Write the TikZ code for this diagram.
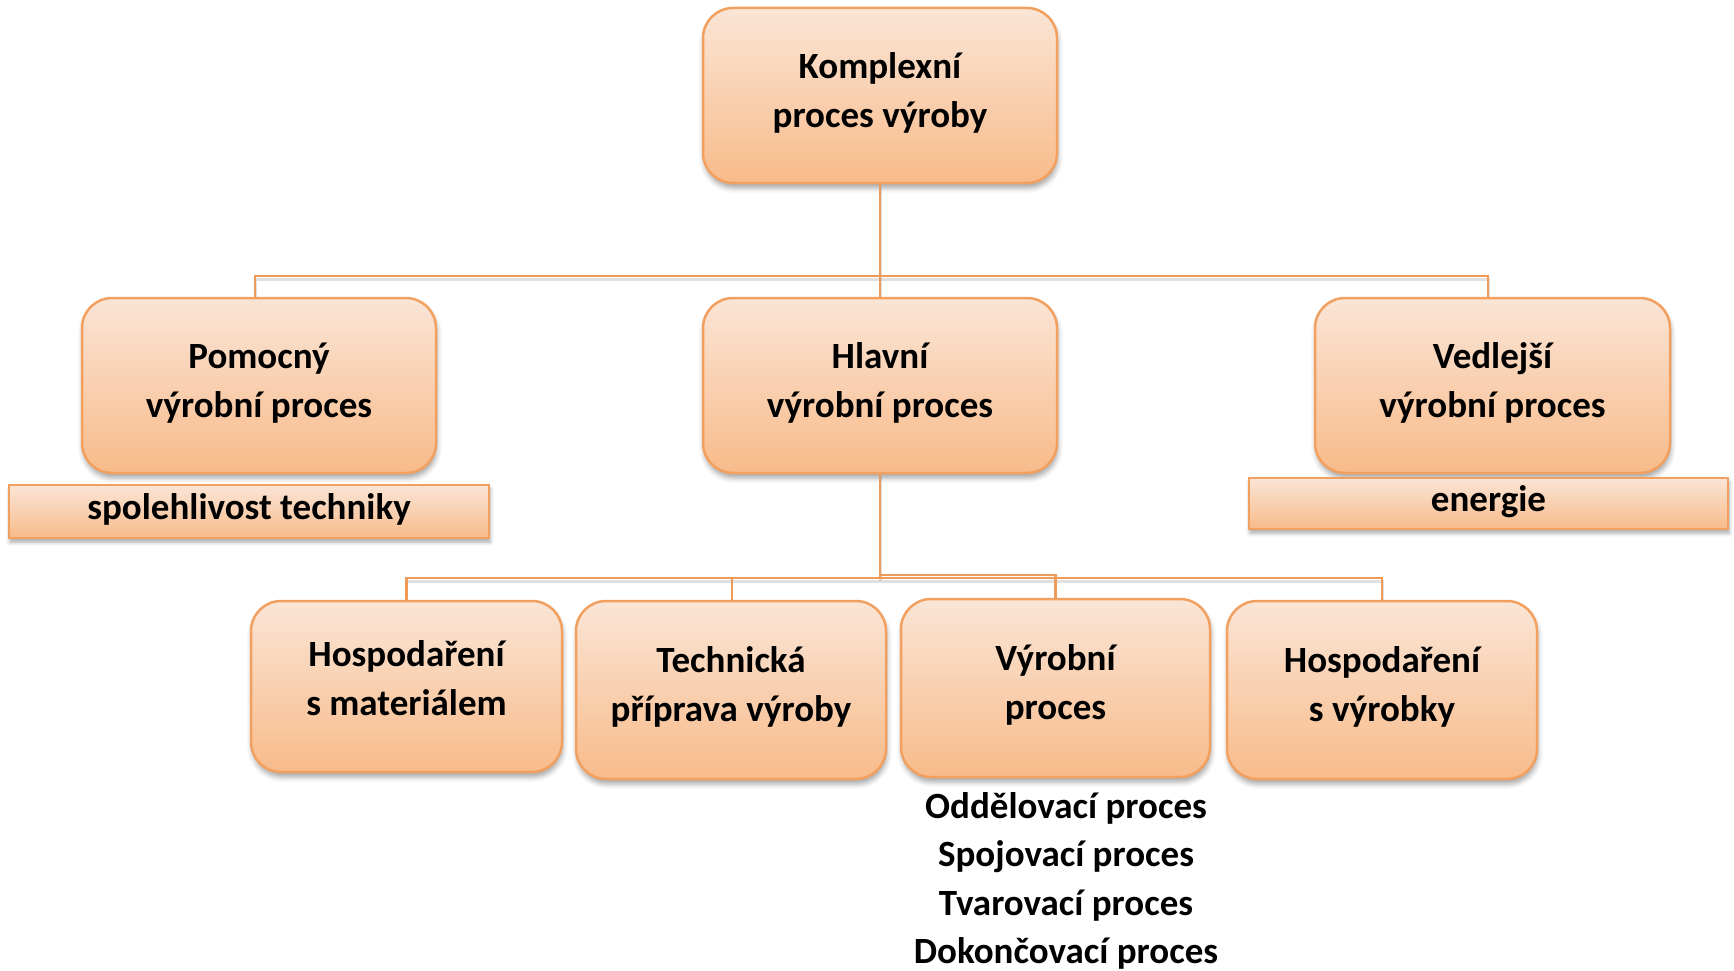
\documentclass[tikz,border=0pt]{standalone}
\usepackage{fontspec}
\setmainfont{Carlito}
\usetikzlibrary{shadows,shadows.blur,calc}
\definecolor{brd}{HTML}{F2A060}
\definecolor{lnc}{HTML}{F09A58}
\definecolor{topc}{HTML}{FAE5D6}
\definecolor{botc}{HTML}{F8BB8A}
\newcommand\boxtxt[2][3pt]{\raisebox{#1}[\height][\depth]{\begin{tabular}{@{}c@{}}#2\end{tabular}}}
\tikzset{
  txt/.style={font=\fontsize{37}{49}\selectfont\bfseries, text=black},
  rbox/.style={txt, draw=brd, line width=2.5pt, rounded corners=30pt, top color=topc, bottom color=botc,
    inner sep=0pt,
    blur shadow={shadow xshift=1pt, shadow yshift=-5pt, shadow blur radius=5pt, shadow opacity=35}},
  sbox/.style={txt, draw=brd, line width=2.5pt, top color=topc, bottom color=botc,
    inner sep=0pt,
    blur shadow={shadow xshift=1pt, shadow yshift=-4pt, shadow blur radius=4pt, shadow opacity=35}},
  conn/.style={draw=lnc, line width=2.5pt},
  connsh/.style={draw=black, opacity=0.12, line width=3pt},
  list/.style={txt, anchor=base, inner sep=0pt},
}
\begin{document}
\begin{tikzpicture}[x=1pt,y=-1pt]
\useasboundingbox (0,0) rectangle (1734,971);
% junctions
\coordinate (j1) at (880,276);
\coordinate (j2) at (880,578);
\coordinate (j3) at (880,575);
% connectors (shadows)
\begin{scope}[yshift=-3pt]
\draw[connsh] (880,183) -- (880,298);
\draw[connsh] (255,298) |- (1488,276) -- (1488,298);
\draw[connsh] (880,473) -- (880,578);
\draw[connsh] (406,601) |- (1382,578) -- (1382,601);
\end{scope}
% boxes
\node[rbox, minimum width=354pt, minimum height=175pt] (k) at (880,95.5) {\boxtxt[2pt]{Komplexní\\proces výroby}};
\node[rbox, minimum width=354pt, minimum height=175pt] (pom) at (259,385.5) {\boxtxt[2pt]{Pomocný\\výrobní proces}};
\node[rbox, minimum width=354pt, minimum height=175pt] (hla) at (880,385.5) {\boxtxt[2pt]{Hlavní\\výrobní proces}};
\node[rbox, minimum width=355pt, minimum height=175pt] (ved) at (1492.5,385.5) {\boxtxt[2pt]{Vedlejší\\výrobní proces}};
\node[sbox, minimum width=480pt, minimum height=53pt] (sp) at (249,511.5) {\boxtxt[2pt]{spolehlivost techniky}};
\node[sbox, minimum width=479pt, minimum height=51pt] (en) at (1488.5,503.5) {\boxtxt[2pt]{energie}};
\node[rbox, minimum width=311pt, minimum height=171pt] (hsm) at (406.5,686.5) {\boxtxt[5.5pt]{Hospodaření\\s materiálem}};
\node[rbox, minimum width=310pt, minimum height=178pt] (tech) at (731,690) {\boxtxt[3pt]{Technická\\příprava výroby}};
\node[rbox, minimum width=309pt, minimum height=178pt] (vyr) at (1055.5,688) {\boxtxt[3pt]{Výrobní\\proces}};
\node[rbox, minimum width=310pt, minimum height=178pt] (hsv) at (1382,690) {\boxtxt[3pt]{Hospodaření\\s výrobky}};
% connectors
\draw[conn] (k.south) -- (hla.north);
\draw[conn] ([xshift=-4pt]pom.north) |- (j1) -| ([xshift=-4.5pt]ved.north);
\draw[conn] (hla.south) -- (j2);
\draw[conn] (hsm.north) |- (j2) -| (hsv.north);
\draw[conn] ([xshift=1pt]tech.north) |- (j2);
\draw[conn] (j3) -| (vyr.north);
% list under Výrobní proces
\node[list] (l1) at (1066,818) {Oddělovací proces};
\node[list] (l2) at (1066,866.5) {Spojovací proces};
\node[list] (l3) at (1066,915) {Tvarovací proces};
\node[list] (l4) at (1066,963.5) {Dokončovací proces};
\end{tikzpicture}
\end{document}
